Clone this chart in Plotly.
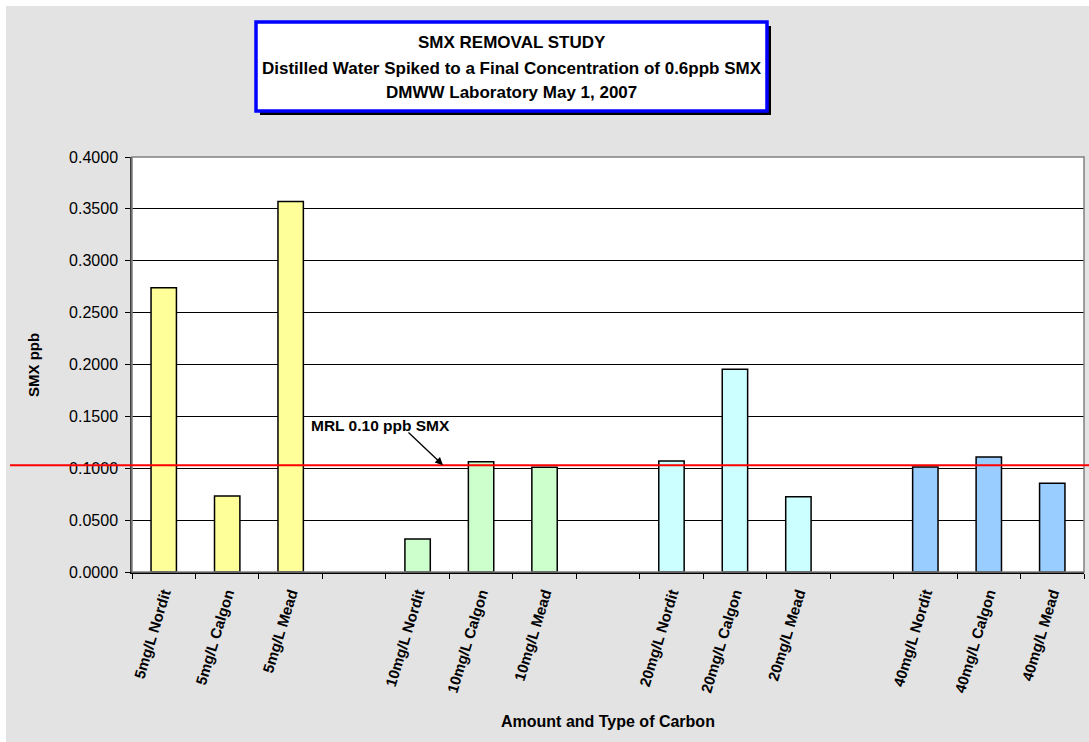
import plotly.graph_objects as go

# ---- data ----
categories = ["5mg/L Nordit", "5mg/L Calgon", "5mg/L Mead", " ",
              "10mg/L Nordit", "10mg/L Calgon", "10mg/L Mead", "  ",
              "20mg/L Nordit", "20mg/L Calgon", "20mg/L Mead", "   ",
              "40mg/L Nordit", "40mg/L Calgon", "40mg/L Mead"]
values = [0.274, 0.0733, 0.357, None,
          0.0318, 0.1063, 0.1009, None,
          0.1070, 0.1954, 0.0726, None,
          0.1012, 0.1108, 0.0855]
group_colors = ["#FFFF99", "#FFFF99", "#FFFF99", "#FFFFFF",
                "#CCFFCC", "#CCFFCC", "#CCFFCC", "#FFFFFF",
                "#CCFFFF", "#CCFFFF", "#CCFFFF", "#FFFFFF",
                "#99CCFF", "#99CCFF", "#99CCFF"]
mrl_value = 0.103
mrl_label = "MRL 0.10 ppb SMX"
y_ticks = [0.0, 0.05, 0.10, 0.15, 0.20, 0.25, 0.30, 0.35, 0.40]
title_lines = ["SMX REMOVAL STUDY",
               "Distilled Water Spiked to a Final Concentration of 0.6ppb SMX",
               "DMWW Laboratory May 1, 2007"]

W, H = 1089, 742
ml, mr, mt, mb = 132, 5, 157, 170
pw = W - ml - mr
ph = H - mt - mb

def px_to_paper_x(px):
    return (px - ml) / pw

def px_to_paper_y(py):
    return (H - mb - py) / ph

FONT = "Liberation Sans, Arial, sans-serif"

fig = go.Figure()
fig.add_trace(go.Bar(
    x=categories, y=values,
    marker=dict(color=group_colors, line=dict(color="#000000", width=1.5)),
    showlegend=False, hoverinfo="x+y"))

shapes = []
# textured grey background (solid approximation)
shapes.append(dict(type="rect", xref="paper", yref="paper",
                   x0=px_to_paper_x(6), x1=px_to_paper_x(W + 2),
                   y0=px_to_paper_y(H + 2), y1=px_to_paper_y(6),
                   fillcolor="#E3E3E3", line=dict(width=0), layer="below"))
# plot area white
shapes.append(dict(type="rect", xref="paper", yref="paper",
                   x0=0, x1=1, y0=0, y1=1,
                   fillcolor="#FFFFFF", line=dict(width=0), layer="below"))
# plot border (grey)
shapes.append(dict(type="rect", xref="paper", yref="paper",
                   x0=0, x1=1, y0=0, y1=1,
                   fillcolor="rgba(0,0,0,0)", line=dict(color="#808080", width=1.5),
                   layer="above"))
# MRL line
shapes.append(dict(type="line", xref="paper", yref="y",
                   x0=px_to_paper_x(10), x1=px_to_paper_x(W + 5),
                   y0=mrl_value, y1=mrl_value,
                   line=dict(color="#FF0000", width=2), layer="above"))
# title box shadow + box
bx0, bx1, by0, by1 = 256, 767, 22, 111
shapes.append(dict(type="rect", xref="paper", yref="paper",
                   x0=px_to_paper_x(bx0 + 4), x1=px_to_paper_x(bx1 + 4),
                   y0=px_to_paper_y(by1 + 4), y1=px_to_paper_y(by0 + 4),
                   fillcolor="#000000", line=dict(width=0), layer="above"))
shapes.append(dict(type="rect", xref="paper", yref="paper",
                   x0=px_to_paper_x(bx0), x1=px_to_paper_x(bx1),
                   y0=px_to_paper_y(by1), y1=px_to_paper_y(by0),
                   fillcolor="#FFFFFF", line=dict(color="#0000FF", width=3.5),
                   layer="above"))

annotations = []
for i, (line, ypx) in enumerate(zip(title_lines, [43, 68, 92])):
    annotations.append(dict(text="<b>%s</b>" % line, xref="paper", yref="paper",
                            x=px_to_paper_x((bx0 + bx1) / 2), y=px_to_paper_y(ypx),
                            xanchor="center", yanchor="middle", showarrow=False,
                            font=dict(family=FONT, size=17, color="#000000")))
# MRL label
annotations.append(dict(text="<b>%s</b>" % mrl_label, xref="paper", yref="paper",
                        x=px_to_paper_x(309), y=px_to_paper_y(425),
                        xanchor="left", yanchor="middle", showarrow=False,
                        font=dict(family=FONT, size=15.5, color="#000000")))
# arrow
annotations.append(dict(text="", xref="paper", yref="y",
                        x=px_to_paper_x(443), y=mrl_value,
                        ax=-36, ay=-34, showarrow=True,
                        arrowhead=2, arrowsize=1.2, arrowwidth=1.3,
                        arrowcolor="#000000"))
# axis titles
annotations.append(dict(text="<b>SMX ppb</b>", xref="paper", yref="paper",
                        x=px_to_paper_x(33), y=px_to_paper_y(365),
                        textangle=-90, showarrow=False,
                        xanchor="center", yanchor="middle",
                        font=dict(family=FONT, size=15, color="#000000")))
annotations.append(dict(text="<b>Amount and Type of Carbon</b>", xref="paper", yref="paper",
                        x=px_to_paper_x(608), y=px_to_paper_y(721),
                        showarrow=False, xanchor="center", yanchor="middle",
                        font=dict(family=FONT, size=16, color="#000000")))

fig.update_layout(
    width=W, height=H,
    margin=dict(l=ml, r=mr, t=mt, b=mb, pad=0),
    paper_bgcolor="#FFFFFF", plot_bgcolor="rgba(0,0,0,0)",
    bargap=0.6,
    shapes=shapes, annotations=annotations,
    font=dict(family=FONT, color="#000000"),
)
fig.update_xaxes(
    type="category", categoryorder="array", categoryarray=categories,
    range=[-0.5, len(categories) - 0.5],
    tickson="boundaries", ticks="outside", ticklen=5, tickcolor="#000000",
    tickangle=-73, showgrid=False, ticklabelstandoff=5,
    showline=True, linecolor="#000000", linewidth=1.5,
    tickfont=dict(family=FONT, size=15, color="#000000", weight="bold"),
)
fig.update_yaxes(
    range=[0, 0.4], tickvals=y_ticks, tickformat=".4f",
    ticks="outside", ticklen=5, tickcolor="#000000", ticklabelstandoff=4,
    showgrid=True, gridcolor="#000000", gridwidth=1,
    zeroline=False, showline=True, linecolor="#404040", linewidth=1.5,
    tickfont=dict(family=FONT, size=16, color="#000000"),
)

fig.write_html("out.html")
